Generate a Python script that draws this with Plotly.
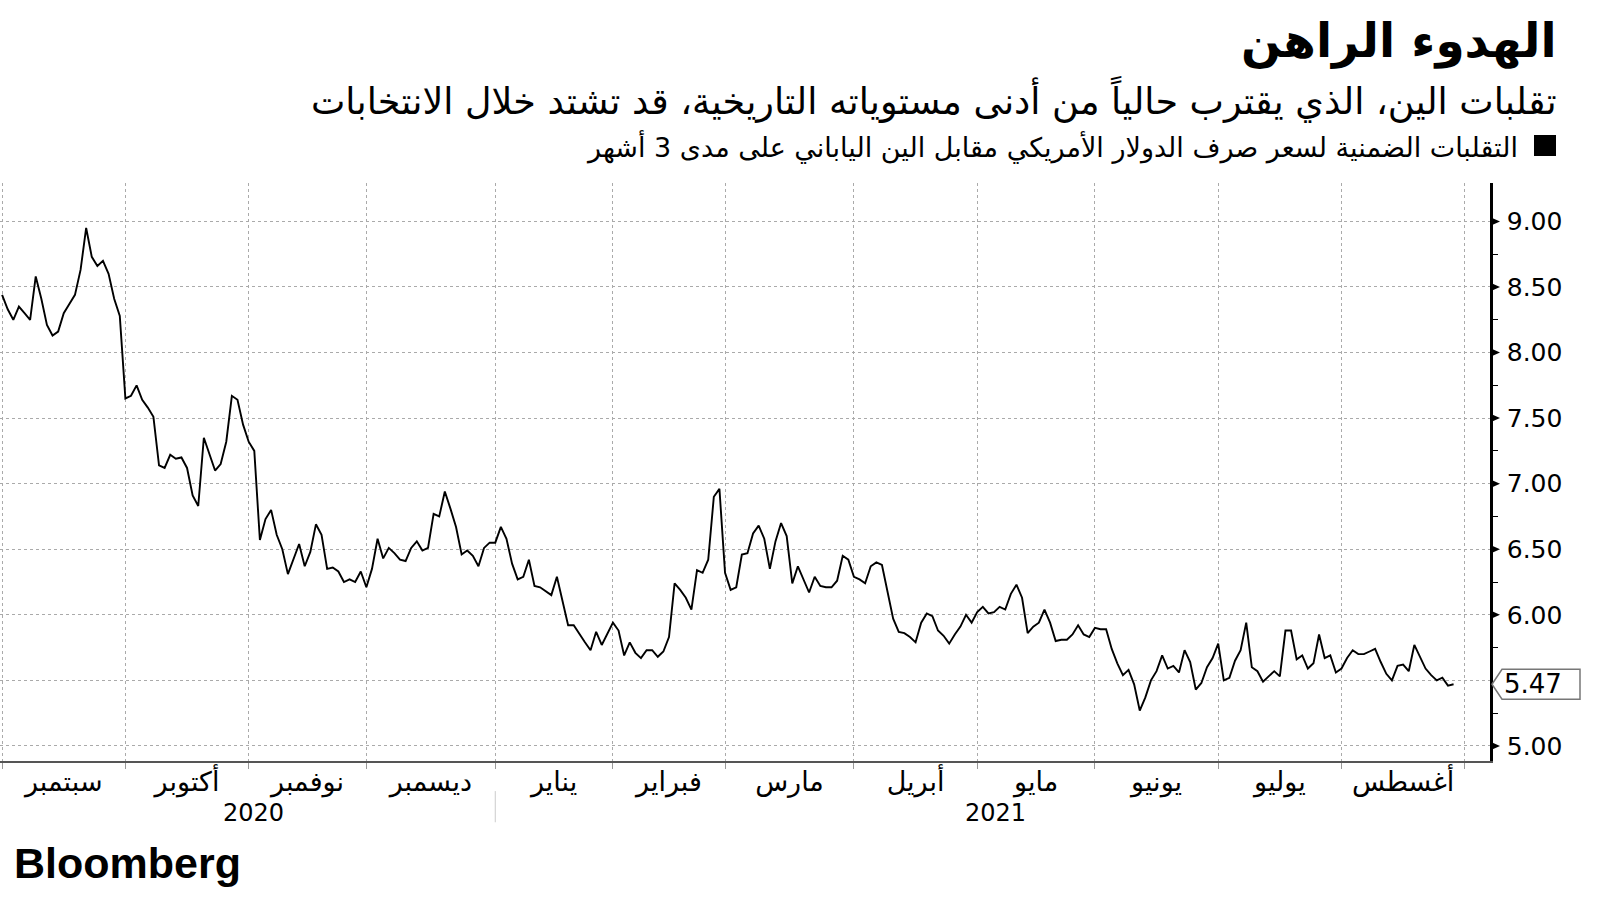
import pandas as pd
import plotly.graph_objects as go

# ---- data (3-month implied volatility USD/JPY), one value per business day ----
vol_sep20 = [8.44, 8.33, 8.25, 8.35, 8.30, 8.25, 8.58, 8.41, 8.21, 8.13, 8.16,
             8.30, 8.37, 8.44, 8.63, 8.95, 8.73, 8.66, 8.70, 8.60, 8.41, 8.28]
vol_oct20 = [7.65, 7.67, 7.75, 7.64, 7.58, 7.51, 7.14, 7.12, 7.22, 7.19, 7.20,
             7.12, 6.91, 6.83, 7.35, 7.22, 7.10, 7.15, 7.32, 7.67, 7.64, 7.45]
vol_nov20 = [7.32, 7.25, 6.57, 6.73, 6.80, 6.61, 6.50, 6.31, 6.43, 6.54, 6.37,
             6.48, 6.69, 6.61, 6.35, 6.36, 6.33, 6.25, 6.27, 6.25, 6.33]
vol_dec20 = [6.21, 6.35, 6.58, 6.43, 6.51, 6.47, 6.42, 6.41, 6.51, 6.56, 6.49,
             6.51, 6.77, 6.75, 6.94, 6.81, 6.67, 6.46, 6.49, 6.45, 6.37, 6.51, 6.55]
vol_jan21 = [6.55, 6.67, 6.58, 6.39, 6.27, 6.29, 6.42, 6.22, 6.21, 6.18, 6.15,
             6.29, 6.11, 5.92, 5.92, 5.85, 5.79, 5.73, 5.87, 5.77, 5.85]
vol_feb21 = [5.94, 5.88, 5.69, 5.79, 5.71, 5.67, 5.73, 5.73, 5.68, 5.72, 5.83,
             6.24, 6.19, 6.13, 6.04, 6.34, 6.32, 6.42, 6.90, 6.96]
vol_mar21 = [6.32, 6.19, 6.21, 6.46, 6.47, 6.62, 6.68, 6.58, 6.35, 6.56, 6.70,
             6.60, 6.24, 6.37, 6.27, 6.17, 6.29, 6.22, 6.21, 6.21, 6.26, 6.45, 6.42]
vol_apr21 = [6.29, 6.27, 6.24, 6.37, 6.40, 6.38, 6.18, 5.97, 5.87, 5.86, 5.83,
             5.79, 5.94, 6.01, 5.99, 5.88, 5.84, 5.78, 5.85, 5.91, 6.00, 5.94]
vol_may21 = [6.02, 6.06, 6.01, 6.02, 6.06, 6.04, 6.16, 6.23, 6.13, 5.86, 5.91,
             5.94, 6.04, 5.94, 5.80, 5.81, 5.81, 5.85, 5.92, 5.85, 5.83]
vol_jun21 = [5.90, 5.89, 5.89, 5.74, 5.63, 5.54, 5.58, 5.47, 5.27, 5.37, 5.50,
             5.57, 5.69, 5.59, 5.61, 5.56, 5.73, 5.64, 5.43, 5.48, 5.60, 5.67]
vol_jul21 = [5.78, 5.50, 5.52, 5.65, 5.73, 5.94, 5.60, 5.57, 5.49, 5.53, 5.57,
             5.53, 5.88, 5.88, 5.66, 5.69, 5.59, 5.63, 5.85, 5.67, 5.69, 5.56]
vol_aug21 = [5.59, 5.67, 5.73, 5.70, 5.70, 5.72, 5.74, 5.64, 5.55, 5.50, 5.61,
             5.62, 5.57, 5.77, 5.68, 5.59, 5.54, 5.50, 5.52, 5.46, 5.47]

monthly = [vol_sep20, vol_oct20, vol_nov20, vol_dec20, vol_jan21, vol_feb21,
           vol_mar21, vol_apr21, vol_may21, vol_jun21, vol_jul21, vol_aug21]
values = [v for m in monthly for v in m]
dates = pd.bdate_range("2020-09-01", periods=len(values))
last_value = values[-1]

month_labels = ["سبتمبر", "أكتوبر", "نوفمبر", "ديسمبر", "يناير", "فبراير",
                "مارس", "أبريل", "مايو", "يونيو", "يوليو", "أغسطس"]
year_labels = ["2020", "2021"]
y_ticks = [5.0, 5.5, 6.0, 6.5, 7.0, 7.5, 8.0, 8.5, 9.0]
y_minor = [5.25, 5.75, 6.25, 6.75, 7.25, 7.75, 8.25, 8.75]

title = "الهدوء الراهن"
subtitle = "تقلبات الين، الذي يقترب حالياً من أدنى مستوياته التاريخية، قد تشتد خلال الانتخابات"
legend_text = "التقلبات الضمنية لسعر صرف الدولار الأمريكي مقابل الين الياباني على مدى 3 أشهر"

# ---- derived tick positions ----
month_starts = pd.date_range("2020-09-01", "2021-09-01", freq="BMS")
label_pos = []
for a, b in zip(month_starts[:-1], month_starts[1:]):
    days = pd.bdate_range(a, b)
    n = len(days) - 1
    mid = days[n // 2]
    if n % 2 == 1:
        mid = mid + pd.Timedelta(hours=12)
    label_pos.append(mid)

AR_FONT = "DejaVu Sans"
NUM_FONT = "DejaVu Sans"

fig = go.Figure()
fig.add_trace(go.Scatter(x=dates, y=values, mode="lines",
                         line=dict(color="black", width=1.9), hoverinfo="x+y",
                         showlegend=False))

fig.update_layout(
    width=1600, height=900,
    margin=dict(l=0, r=110, t=183, b=139),
    paper_bgcolor="white", plot_bgcolor="white",
    showlegend=False,
    xaxis=dict(
        type="date",
        range=["2020-08-31 15:00", "2021-09-07 12:00"],
        rangebreaks=[dict(bounds=["sat", "mon"])],
        tickmode="array", tickvals=label_pos, ticktext=month_labels,
        ticks="", showgrid=False, zeroline=False,
        tickfont=dict(family=AR_FONT, size=27, color="black"),
        ticklabelstandoff=-4,
        showline=True, linecolor="#555555", linewidth=1.5,
        minor=dict(tickmode="array", tickvals=list(month_starts), ticks="outside",
                   ticklen=6, tickcolor="#999999", tickwidth=1,
                   showgrid=True, gridcolor="#aaaaaa", griddash="dot", gridwidth=1),
    ),
    yaxis=dict(
        side="right", range=[4.885, 9.293],
        tickmode="array", tickvals=y_ticks,
        ticktext=["" if abs(v - 5.5) < 1e-9 else f"{v:.2f}" for v in y_ticks],
        ticks="", showgrid=True, gridcolor="#aaaaaa", griddash="dot", gridwidth=1,
        zeroline=False, showline=True, linecolor="black", linewidth=2.5,
        tickfont=dict(family=NUM_FONT, size=25, color="black"),
        ticklabelstandoff=9,
        minor=dict(tickmode="array", tickvals=y_minor, ticks="outside",
                   ticklen=5, tickcolor="black", tickwidth=1, showgrid=False),
    ),
)

shapes = []
for v in y_ticks:
    if abs(v - 5.5) < 1e-9:
        continue
    shapes.append(dict(type="path", xref="paper", yref="y", xsizemode="pixel",
                       ysizemode="pixel", xanchor=1, yanchor=v,
                       path="M 1,-4 L 10,0 L 1,4 Z",
                       fillcolor="black", line=dict(width=0)))
# last-value callout
shapes.append(dict(type="path", xref="paper", yref="y", xsizemode="pixel",
                   ysizemode="pixel", xanchor=1, yanchor=last_value,
                   path="M 2,0 L 12,15 L 90,15 L 90,-15 L 12,-15 Z",
                   fillcolor="white", line=dict(color="#777777", width=1.5)))
# legend square
shapes.append(dict(type="rect", xref="paper", yref="paper",
                   x0=1534 / 1490, x1=1556 / 1490,
                   y0=(761 - 156) / 578, y1=(761 - 135) / 578,
                   fillcolor="black", line=dict(width=0)))
# year separator
shapes.append(dict(type="line", xref="x", yref="paper",
                   x0=month_starts[4], x1=month_starts[4],
                   y0=-0.052, y1=-0.106, line=dict(color="#cccccc", width=1)))
fig.update_layout(shapes=shapes)

ann = [
    dict(text=f"{last_value:.2f}", xref="paper", yref="y", x=1, y=last_value,
         xanchor="left", yanchor="middle", xshift=12, showarrow=False,
         font=dict(family=NUM_FONT, size=26, color="black")),
    dict(text=f"<b>{title}</b>", xref="paper", yref="paper", x=1559 / 1490,
         y=(761 - 41) / 578, xanchor="right", yanchor="middle", showarrow=False,
         font=dict(family=AR_FONT, size=47, color="black")),
    dict(text=subtitle, xref="paper", yref="paper", x=1559 / 1490,
         y=(761 - 99) / 578, xanchor="right", yanchor="middle", showarrow=False,
         font=dict(family=AR_FONT, size=36.5, color="black")),
    dict(text=legend_text, xref="paper", yref="paper", x=1520 / 1490,
         y=(761 - 146) / 578, xanchor="right", yanchor="middle", showarrow=False,
         font=dict(family=AR_FONT, size=27, color="black")),
    dict(text=year_labels[0], xref="paper", yref="paper", x=253 / 1490,
         y=(761 - 813) / 578, xanchor="center", yanchor="middle", showarrow=False,
         font=dict(family=AR_FONT, size=24, color="black")),
    dict(text=year_labels[1], xref="paper", yref="paper", x=995 / 1490,
         y=(761 - 813) / 578, xanchor="center", yanchor="middle", showarrow=False,
         font=dict(family=AR_FONT, size=24, color="black")),
    dict(text="<b>Bloomberg</b>", xref="paper", yref="paper", x=12 / 1490,
         y=(761 - 863) / 578, xanchor="left", yanchor="middle", showarrow=False,
         font=dict(family="Liberation Sans", size=43, color="black")),
]
fig.update_layout(annotations=ann)

fig.write_html("out.html", config={"displayModeBar": False},
               post_script="document.body.style.margin='0';")
